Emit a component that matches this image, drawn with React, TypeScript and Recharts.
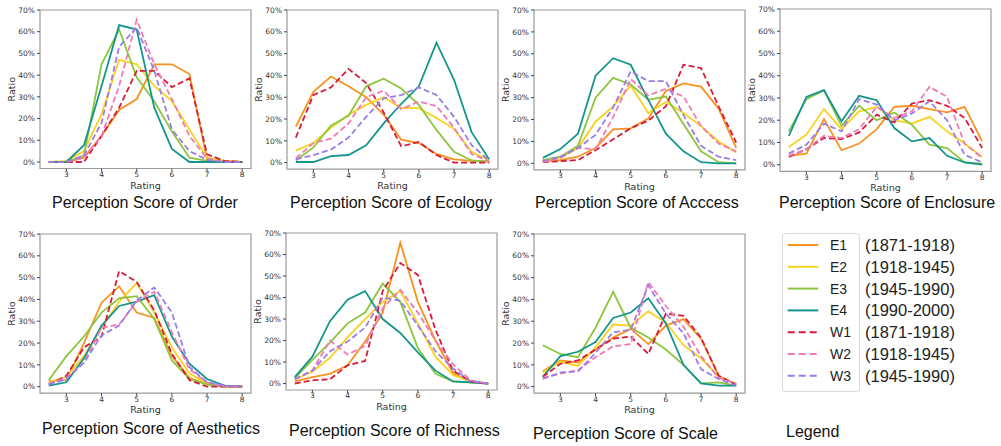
import { LineChart, Line, XAxis, YAxis, ReferenceArea } from "recharts";

const ratings = [2.5, 3, 3.5, 4, 4.5, 5, 5.5, 6, 6.5, 7, 7.5, 8];
const xTicks = [3, 4, 5, 6, 7, 8];
const yTicks = [0, 10, 20, 30, 40, 50, 60, 70];

const seriesNames = ["E1", "E2", "E3", "E4", "W1", "W2", "W3"];
const seriesPeriods = ["(1871-1918)", "(1918-1945)", "(1945-1990)", "(1990-2000)", "(1871-1918)", "(1918-1945)", "(1945-1990)"];
const seriesColors = ["#f7931e", "#fad11e", "#8cc63e", "#14958e", "#d81b3c", "#f27ab4", "#9b7ce8"];
const seriesDashed = [false, false, false, false, true, true, true];

// ratio (%) per rating, rows in seriesNames order
const order = [
  [0, 0, 2, 12, 24, 29, 45, 45, 40.5, 1, 0.5, 0],
  [0, 0.5, 5, 22, 47, 45, 35, 28, 15, 2, 0.5, 0],
  [0, 0, 3, 45, 61, 39, 28, 14, 2, 0.5, 0, 0],
  [0, 0, 7.7, 35, 63, 61, 25, 6, 0, 0, 0, 0],
  [0, 0, 0, 12, 25, 42, 42, 34.5, 38.5, 3.5, 0.5, 0],
  [0, 0, 2, 12, 35, 65.5, 45, 29, 12, 1.5, 0, 0],
  [0, 0, 3, 18, 53, 62, 42, 15, 5, 1, 0, 0],
];

const ecology = [
  [16.5, 32.5, 39.5, 35, 30, 22, 10.5, 9, 4, 1.5, 0.8, 0.5],
  [5.5, 9, 16, 22, 26.5, 30, 25, 25, 20.5, 15.5, 5, 1],
  [1, 7, 17, 21.5, 35, 38.5, 34, 26.5, 15, 5, 1, 0.5],
  [0.3, 0.3, 3, 3.5, 8, 18, 27, 35, 55, 38, 14, 1.5],
  [11.5, 31, 34.5, 43, 36.5, 23, 7.5, 9.5, 3.5, 0, 0, 0],
  [2, 9, 11, 18, 30, 33, 24.5, 28, 26, 16, 4, 0.5],
  [1.5, 3.5, 6, 11.5, 21, 29.5, 31, 34.5, 31, 21, 8, 1],
];

const access = [
  [1, 1.5, 3, 7, 15.5, 16, 20.5, 33, 36.5, 35, 25, 7],
  [1.5, 2.5, 7, 19, 26, 35.5, 23, 28, 23, 17, 10, 5],
  [1.5, 3, 8, 30, 39, 36, 29, 30.5, 18, 5.5, 0.5, 0],
  [2.5, 6.5, 13.5, 40, 48, 45, 29, 13.5, 5.5, 0.5, 0, 0],
  [0.5, 1, 1.5, 6, 11, 16, 19.5, 26, 45, 43.5, 26, 9.5],
  [0.5, 2.5, 7, 6.5, 21, 38.5, 31, 34, 30.5, 17, 9, 5.5],
  [1, 3, 7, 13, 25.5, 42, 37.5, 37.5, 22, 8, 3, 1.5],
];

const enclosure = [
  [4, 5, 20.5, 6.5, 9.5, 16, 26, 26.5, 25, 23.5, 26, 10.5],
  [8, 13.5, 25, 16, 24, 26, 20, 18.5, 21.5, 15, 9.5, 3.5],
  [15, 29.5, 33.5, 17.5, 26.5, 20, 23.5, 18, 9, 7.5, 1, 0.5],
  [13, 30.5, 33.5, 19.5, 31, 29, 16.5, 10.5, 12, 4, 1, 0],
  [3.5, 7, 12, 11.5, 14.5, 22.5, 19, 27.5, 29, 26.5, 21, 7.5],
  [4, 7, 13, 12, 16, 26, 21, 24, 35, 30.5, 9.5, 3],
  [5, 9, 18.5, 15, 29.5, 27, 20, 23, 28.5, 20, 4.5, 1],
];

const aesthetics = [
  [2.5, 3, 20, 38.5, 46, 34, 31.5, 14, 4, 1, 0, 0],
  [2, 4.5, 14, 27, 39, 47.5, 34, 18, 6, 1.5, 0.5, 0],
  [3, 14, 23, 34, 40.5, 41.5, 31, 12, 3.5, 1, 0, 0],
  [0.5, 2, 13, 28, 37, 39, 42, 23, 10.5, 3.5, 0.5, 0],
  [1, 5, 18, 23, 53, 48, 35, 15, 3, 0, 0, 0],
  [1.5, 4, 11, 27, 28.5, 39, 43.5, 25, 8, 2, 0, 0],
  [1, 3.5, 11, 23.5, 28, 39.5, 45.5, 34, 9, 2, 0.5, 0],
];

const richness = [
  [1, 3, 4.5, 8.5, 19.5, 33, 65.5, 38, 20, 5, 0.5, 0],
  [2, 5.5, 12, 21.5, 30, 38, 43, 28, 12.5, 4, 1, 0],
  [2.5, 11, 19, 28, 33, 46.5, 38, 16.5, 4.5, 1, 0.5, 0],
  [3, 12.5, 29, 39, 43, 30, 23.5, 14.5, 6, 1, 0.5, 0],
  [0, 1.5, 2, 8.5, 10.5, 43, 56, 50.5, 25, 6, 1, 0],
  [2, 6, 20, 13.5, 17.5, 35, 43.5, 33, 20, 9, 1.5, 0],
  [2, 6, 15, 19.5, 26, 40, 38.5, 27, 15, 7, 1, 0],
];

const scale = [
  [7, 12, 11, 17, 22.5, 26.5, 19.5, 28, 31, 22, 5, 1],
  [6.5, 11.5, 9.5, 18, 28.5, 28, 34.5, 29.5, 19, 13, 4.5, 1],
  [19, 15, 13.5, 27, 43.5, 27, 22.5, 17, 10, 1.5, 2, 0.5],
  [4.5, 14, 16, 20.5, 31.5, 34, 40.5, 29, 10, 1.5, 0.5, 0.5],
  [4.5, 10.5, 12, 17, 22, 23, 15, 33.5, 32.5, 22.5, 5, 1],
  [4, 6, 7.5, 13.5, 18.5, 19.5, 48, 37, 27.5, 14, 4, 1.5],
  [3.5, 6.5, 7, 15.5, 25, 26, 46.5, 33.5, 24.5, 8, 3.5, 0.5],
];

// layout: plot-area left/top/height in page px, title anchor
const panels = [
  { title: "Perception Score of Order", values: order, left: 39.6, top: 10, h: 158.5, tx: 52, ty: 208 },
  { title: "Perception Score of Ecology", values: ecology, left: 287, top: 10, h: 159.2, tx: 290, ty: 208 },
  { title: "Perception Score of Acccess", values: access, left: 534, top: 10, h: 159.9, tx: 535, ty: 208 },
  { title: "Perception Score of Enclosure", values: enclosure, left: 780.3, top: 9.3, h: 162.4, tx: 779, ty: 208 },
  { title: "Perception Score of Aesthetics", values: aesthetics, left: 39.6, top: 234, h: 159.2, tx: 42, ty: 434 },
  { title: "Perception Score of Richness", values: richness, left: 286.3, top: 232.7, h: 157, tx: 289, ty: 436 },
  { title: "Perception Score of Scale", values: scale, left: 533.6, top: 234, h: 159.2, tx: 533, ty: 439 },
];

const PLOT_W = 211;
const Y_AXIS_W = 40;
const X_AXIS_H = 25;
const TOP_PAD = 5;
const tickStyle = { fontSize: 7.5, fill: "#333", fontFamily: "DejaVu Sans" };
const labelStyle = { fontSize: 9.5, fill: "#333", fontFamily: "DejaVu Sans" };
const titleFont = "'Liberation Sans', Arial, sans-serif";

function Panel({ p }: { p: (typeof panels)[number] }) {
  const data = ratings.map((r, i) => {
    const row: Record<string, number> = { rating: r };
    seriesNames.forEach((s, k) => {
      row[s] = p.values[k][i];
    });
    return row;
  });
  return (
    <div style={{ position: "absolute", left: p.left - Y_AXIS_W, top: p.top - TOP_PAD }}>
      <LineChart
        width={Y_AXIS_W + PLOT_W + 5}
        height={TOP_PAD + p.h + X_AXIS_H}
        data={data}
        margin={{ top: TOP_PAD, right: 5, bottom: 0, left: 0 }}
      >
        <XAxis
          dataKey="rating"
          type="number"
          domain={[2.25, 8.25]}
          ticks={xTicks}
          allowDataOverflow
          height={X_AXIS_H}
          axisLine={false}
          tickSize={3}
          tickMargin={0}
          tickLine={{ stroke: "#444" }}
          tick={tickStyle}
          label={{ value: "Rating", position: "insideBottom", offset: 5, style: labelStyle }}
        />
        <YAxis
          type="number"
          domain={[-3, 70]}
          ticks={yTicks}
          allowDataOverflow
          width={Y_AXIS_W}
          axisLine={false}
          tickSize={3}
          tickMargin={2}
          tickLine={{ stroke: "#444" }}
          tick={tickStyle}
          tickFormatter={(v: number) => `${v}%`}
          label={{ value: "Ratio", angle: -90, position: "insideLeft", offset: 12, style: { ...labelStyle, textAnchor: "middle" } }}
        />
        <ReferenceArea x1={2.25} x2={8.25} y1={-3} y2={70} fill="none" stroke="#9a9a9a" strokeWidth={1.2} ifOverflow="visible" />
        {seriesNames.map((s, k) => (
          <Line
            key={s}
            dataKey={s}
            type="linear"
            stroke={seriesColors[k]}
            strokeWidth={1.8}
            strokeDasharray={seriesDashed[k] ? "6 3" : undefined}
            dot={false}
            isAnimationActive={false}
          />
        ))}
      </LineChart>
    </div>
  );
}

function LegendBox() {
  return (
    <svg style={{ position: "absolute", left: 770, top: 225 }} width={231} height={175}>
      <rect x={12.5} y={8.5} width={77} height={158} rx={3} fill="#fff" stroke="#d9d9d9" />
      {seriesNames.map((s, k) => {
        const y = 20 + k * 21.8;
        return (
          <g key={s}>
            <line
              x1={17.7}
              x2={48.3}
              y1={y}
              y2={y}
              stroke={seriesColors[k]}
              strokeWidth={2}
              strokeDasharray={seriesDashed[k] ? "7 4" : undefined}
            />
            <text x={60} y={y} dominantBaseline="central" fontSize={14} fill="#222" fontFamily={titleFont}>
              {s}
            </text>
            <text x={95} y={y} dominantBaseline="central" fontSize={16.5} fill="#222" fontFamily={titleFont}>
              {seriesPeriods[k]}
            </text>
          </g>
        );
      })}
    </svg>
  );
}

export default function App() {
  return (
    <div style={{ position: "fixed", left: 0, top: 0, width: 1001, height: 446, background: "#fff", overflow: "hidden" }}>
      {panels.map((p) => (
        <Panel key={p.title} p={p} />
      ))}
      <svg style={{ position: "absolute", left: 0, top: 0 }} width={1001} height={446} pointerEvents="none">
        {panels.map((p) => (
          <text key={p.title} x={p.tx} y={p.ty} fontSize={16} fill="#111" fontFamily={titleFont}>
            {p.title}
          </text>
        ))}
        <text x={786} y={437} fontSize={16} fill="#111" fontFamily={titleFont}>
          Legend
        </text>
      </svg>
      <LegendBox />
    </div>
  );
}
